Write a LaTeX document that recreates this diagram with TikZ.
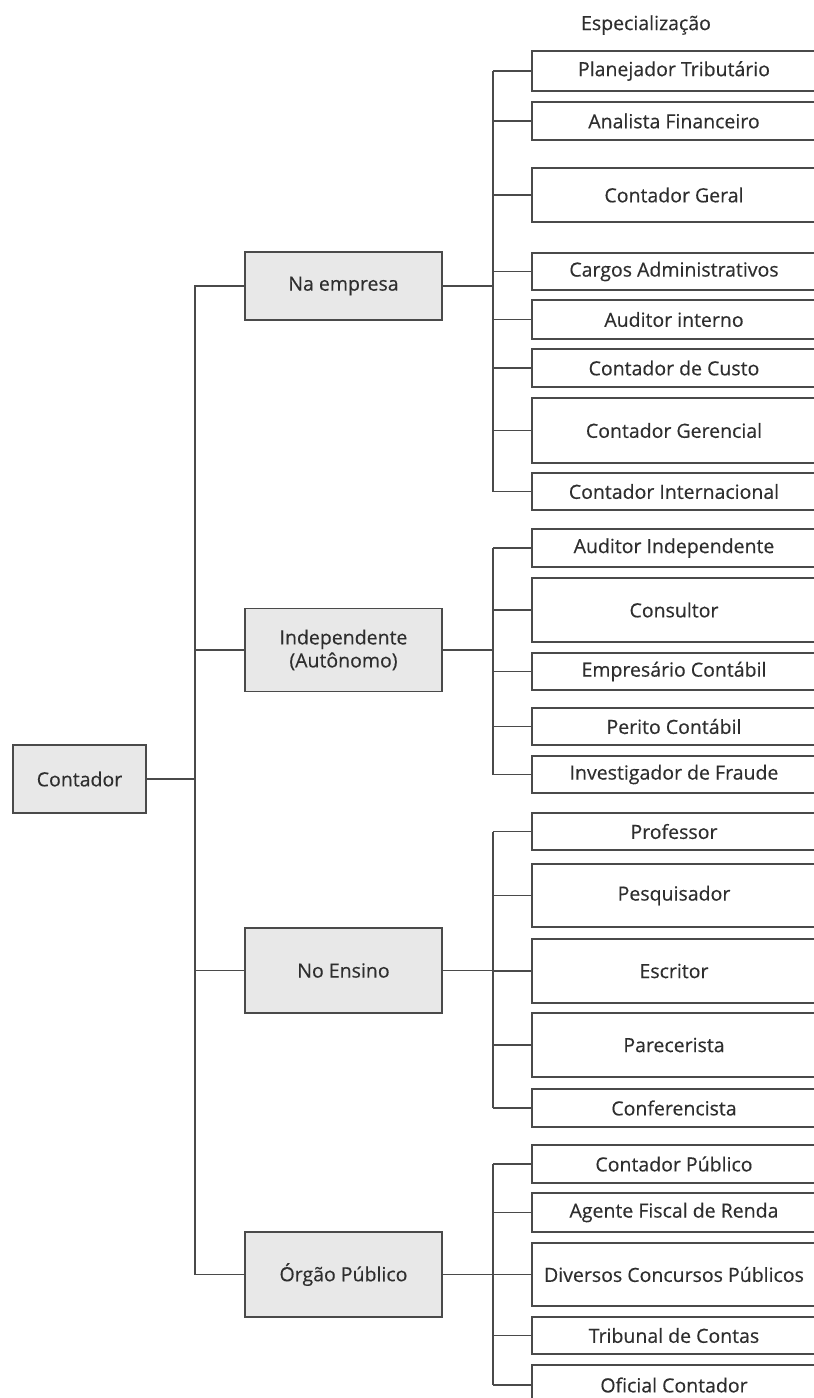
\documentclass[tikz,border=0pt]{standalone}
\usepackage{fontspec}
\setmainfont{Open Sans}
\newfontfamily\lblfont{Open Sans}[FakeBold=0.35]
\definecolor{lin}{HTML}{4A4A4A}
\definecolor{txt}{HTML}{2E2E2E}
\definecolor{boxfill}{HTML}{E8E8E8}
\tikzset{
  base/.style={draw=lin, line width=1.9pt, inner sep=0pt, text=txt,
    font=\lblfont\fontsize{19.5}{23}\selectfont, align=center},
  mainbox/.style={base, fill=boxfill, minimum width=197pt},
  spec/.style={base, fill=white, minimum width=284pt},
  conn/.style={draw=lin, line width=1.9pt},
}
\newcommand{\specnode}[4]{% name, top, bottom, text
  \pgfmathsetmacro{\hh}{#3-#2}\pgfmathsetmacro{\cy}{(#2+#3)/2}%
  \node[spec, minimum height=\hh pt] (#1) at (674,\cy) {#4};}
\begin{document}
\begin{tikzpicture}[x=1pt,y=-1pt]
\useasboundingbox (0,0) rectangle (814,1398);
\clip (0,0) rectangle (814,1398);
\fill[white] (0,0) rectangle (814,1398);

\coordinate (s0) at (195,0);
\coordinate (s1) at (493,0);

\node[text=txt, font=\lblfont\fontsize{19.5}{23}\selectfont] (esp) at (646,25) {Especialização};

% root
\node[mainbox, minimum width=133pt, minimum height=68pt] (cont) at (79.5,779) {Contador};

% level 1
\node[mainbox, minimum height=68pt] (na) at (343.5,286) {Na empresa};
\node[mainbox, minimum height=83pt] (ind) at (343.5,650) {Independente\\(Autônomo)};
\node[mainbox, minimum height=85pt] (ens) at (343.5,970.5) {No Ensino};
\node[mainbox, minimum height=85pt] (org) at (343.5,1274.5) {Órgão Público};

% specializations
\specnode{p1}{51}{91}{Planejador Tributário}
\specnode{p2}{102}{140}{Analista Financeiro}
\specnode{p3}{168}{222}{Contador Geral}
\specnode{p4}{253}{290}{Cargos Administrativos}
\specnode{p5}{300}{339}{Auditor interno}
\specnode{p6}{349}{387}{Contador de Custo}
\specnode{p7}{398}{463}{Contador Gerencial}
\specnode{p8}{473}{510}{Contador Internacional}

\specnode{i1}{529}{567}{Auditor Independente}
\specnode{i2}{578}{642}{Consultor}
\specnode{i3}{653}{690}{Empresário Contábil}
\specnode{i4}{708}{745}{Perito Contábil}
\specnode{i5}{756}{793}{Investigador de Fraude}

\specnode{e1}{813}{850}{Professor}
\specnode{e2}{864}{927}{Pesquisador}
\specnode{e3}{939}{1003}{Escritor}
\specnode{e4}{1013}{1077}{Parecerista}
\specnode{e5}{1089}{1127}{Conferencista}

\specnode{o1}{1145}{1183}{Contador Público}
\specnode{o2}{1193}{1232}{Agente Fiscal de Renda}
\specnode{o3}{1243}{1306}{Diversos Concursos Públicos}
\specnode{o4}{1317}{1354}{Tribunal de Contas}
\specnode{o5}{1365}{1405}{Oficial Contador}

% main spine
\draw[conn] (cont.east) -- (cont.east -| s0);
\draw[conn] (na.west) -- (na.west -| s0) -- (org.west -| s0) -- (org.west);
\draw[conn] (ind.west) -- (ind.west -| s0);
\draw[conn] (ens.west) -- (ens.west -| s0);

% group spines
\draw[conn] (na.east) -- (na.east -| s1);
\draw[conn] (p1.west -| s1) -- (p8.west -| s1);
\foreach \n in {p1,p2,p3,p4,p5,p6,p7,p8} \draw[conn] (\n.west -| s1) -- (\n.west);

\draw[conn] (ind.east) -- (ind.east -| s1);
\draw[conn] (i1.west -| s1) -- (i5.west -| s1);
\foreach \n in {i1,i2,i3,i4,i5} \draw[conn] (\n.west -| s1) -- (\n.west);

\draw[conn] (ens.east) -- (ens.east -| s1);
\draw[conn] (e1.west -| s1) -- (e5.west -| s1);
\foreach \n in {e1,e2,e3,e4,e5} \draw[conn] (\n.west -| s1) -- (\n.west);

\draw[conn] (org.east) -- (org.east -| s1);
\draw[conn] (o1.west -| s1) -- (o5.west -| s1);
\foreach \n in {o1,o2,o3,o4,o5} \draw[conn] (\n.west -| s1) -- (\n.west);
\end{tikzpicture}
\end{document}
